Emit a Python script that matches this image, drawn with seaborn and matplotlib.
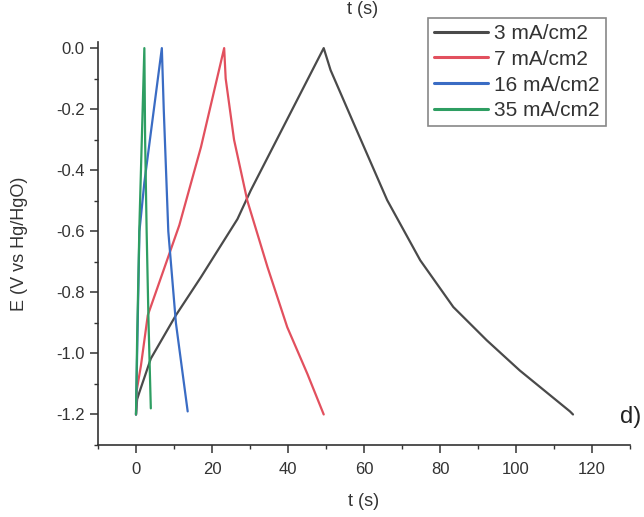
import numpy as np
import pandas as pd
import matplotlib
matplotlib.use("Agg")
import matplotlib.pyplot as plt
from matplotlib.ticker import MultipleLocator
import seaborn as sns

# ---- data ----
labels = ["3 mA/cm2", "7 mA/cm2", "16 mA/cm2", "35 mA/cm2"]
colors = ["#4a4a4a", "#e2505e", "#3a6cc4", "#2e9e62"]

t_3 = [0, 0.3, 0.9, 3.9, 10.5, 17.1, 26.7, 30.2, 49.4,
       51.2, 57.3, 66.1, 74.8, 83.5, 92.3, 101.0, 114.2, 115.0]
E_3 = [-1.2, -1.15, -1.127, -1.017, -0.875, -0.75, -0.56, -0.466, 0.0,
       -0.072, -0.247, -0.498, -0.695, -0.848, -0.957, -1.056, -1.19, -1.2]

t_7 = [0, 0.2, 1.3, 3.1, 11.4, 17.1, 23.2,
       23.6, 25.8, 29.3, 34.6, 39.8, 45.1, 49.4]
E_7 = [-1.2, -1.12, -1.04, -0.875, -0.58, -0.324, 0.0,
       -0.1, -0.30, -0.50, -0.717, -0.914, -1.067, -1.2]

t_16 = [0, 0.3, 0.9, 2.2, 6.8, 7.3, 8.5, 10.5, 13.6]
E_16 = [-1.2, -1.0, -0.6, -0.44, 0.0, -0.2, -0.6, -0.9, -1.19]

t_35 = [0, 0.3, 0.9, 2.2, 2.4, 2.8, 3.3, 3.9]
E_35 = [-1.2, -0.95, -0.58, 0.0, -0.3, -0.6, -0.9, -1.18]

series_t = [t_3, t_7, t_16, t_35]
series_E = [E_3, E_7, E_16, E_35]

rows = []
for lab, ts, es in zip(labels, series_t, series_E):
    for i, (tt, ee) in enumerate(zip(ts, es)):
        rows.append({"t": tt, "E": ee, "series": lab, "order": i})
df = pd.DataFrame(rows)

sns.set_style("ticks")
plt.rcParams["font.family"] = ["Liberation Sans", "DejaVu Sans"]
plt.rcParams["axes.unicode_minus"] = False

fig = plt.figure(figsize=(6.44, 5.17), dpi=100)
ax = fig.add_axes([98 / 644, 1 - 445 / 517, (630 - 98) / 644, (445 - 42) / 517])

sns.lineplot(data=df, x="t", y="E", hue="series", hue_order=labels,
             palette=colors, sort=False, estimator=None, units="series",
             linewidth=1.6, ax=ax, legend=True)

ax.set_xlim(-10, 130)
ax.set_ylim(-1.3, 0.02)
ax.xaxis.set_major_locator(MultipleLocator(20))
ax.xaxis.set_minor_locator(MultipleLocator(10))
ax.yaxis.set_major_locator(MultipleLocator(0.2))
ax.yaxis.set_minor_locator(MultipleLocator(0.1))
ax.set_yticks([0.0, -0.2, -0.4, -0.6, -0.8, -1.0, -1.2])
ax.set_yticklabels(["0.0", "-0.2", "-0.4", "-0.6", "-0.8", "-1.0", "-1.2"])

for s in ["top", "right"]:
    ax.spines[s].set_visible(False)
for s in ["left", "bottom"]:
    ax.spines[s].set_color("#333333")
    ax.spines[s].set_linewidth(1.2)

ax.tick_params(axis="both", which="major", direction="out", length=6, width=1.1,
               colors="#333333", labelsize=12, labelcolor="#333333")
ax.tick_params(axis="x", which="major", pad=6)
ax.tick_params(axis="both", which="minor", direction="out", length=3, width=1.0,
               colors="#333333")

ax.set_xlabel("t (s)", fontsize=13, color="#333333", labelpad=12)
ax.set_ylabel("E (V vs Hg/HgO)", fontsize=13, color="#333333", labelpad=20)

leg = ax.legend(loc="upper left", bbox_to_anchor=(428 / 644, 1 - 18 / 517),
                bbox_transform=fig.transFigure, fontsize=15, frameon=True,
                fancybox=False, edgecolor="#888888", framealpha=1,
                handlelength=2.6, handletextpad=0.3, labelspacing=0.33,
                borderpad=0.28, borderaxespad=0)
leg.get_frame().set_linewidth(1.2)
for line in leg.get_lines():
    line.set_linewidth(2.2)
for txt in leg.get_texts():
    txt.set_color("#333333")

fig.text(363 / 644, 1 - 10 / 517, "t (s)", fontsize=13, color="#333333",
         ha="center", va="center")
fig.text(631 / 644, 1 - 417 / 517, "d)", fontsize=17, color="#222222",
         ha="center", va="center")

fig.savefig("out.png", dpi=100)
